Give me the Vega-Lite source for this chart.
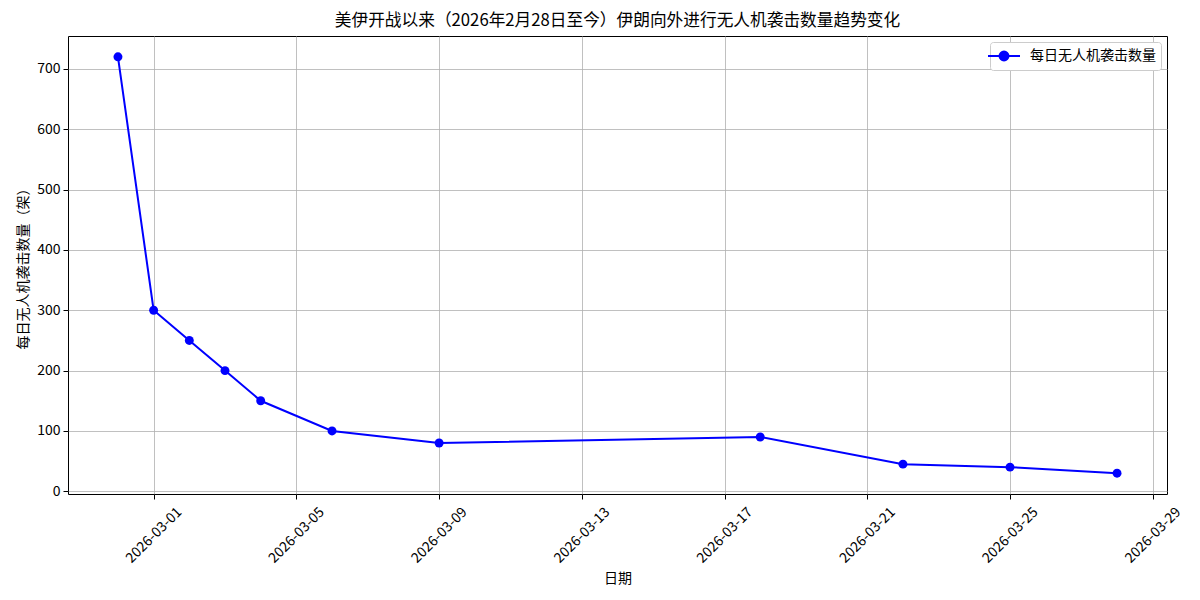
{
  "$schema": "https://vega.github.io/schema/vega-lite/v6.json",
  "width": 1099,
  "height": 458,
  "autosize": "none",
  "padding": {"left": 68, "top": 36, "right": 33, "bottom": 106},
  "background": "white",
  "config": {
    "font": "Noto Sans CJK SC",
    "view": {"stroke": "black", "strokeWidth": 1},
    "axis": {
      "grid": true,
      "gridColor": "#b0b0b0",
      "gridWidth": 0.8,
      "domain": false,
      "tickColor": "black",
      "tickSize": 5,
      "labelColor": "black",
      "labelFontSize": 14,
      "titleFontSize": 14,
      "titleFontWeight": "normal",
      "titleColor": "black"
    }
  },
  "title": {
    "text": "美伊开战以来（2026年2月28日至今）伊朗向外进行无人机袭击数量趋势变化",
    "fontSize": 16.7,
    "fontWeight": "normal",
    "color": "black",
    "offset": 6
  },
  "data": {
    "values": [
      {"date": "2026-02-28T00:00:00", "count": 720, "series": "每日无人机袭击数量"},
      {"date": "2026-03-01T00:00:00", "count": 300, "series": "每日无人机袭击数量"},
      {"date": "2026-03-02T00:00:00", "count": 250, "series": "每日无人机袭击数量"},
      {"date": "2026-03-03T00:00:00", "count": 200, "series": "每日无人机袭击数量"},
      {"date": "2026-03-04T00:00:00", "count": 150, "series": "每日无人机袭击数量"},
      {"date": "2026-03-06T00:00:00", "count": 100, "series": "每日无人机袭击数量"},
      {"date": "2026-03-09T00:00:00", "count": 80, "series": "每日无人机袭击数量"},
      {"date": "2026-03-18T00:00:00", "count": 90, "series": "每日无人机袭击数量"},
      {"date": "2026-03-22T00:00:00", "count": 45, "series": "每日无人机袭击数量"},
      {"date": "2026-03-25T00:00:00", "count": 40, "series": "每日无人机袭击数量"},
      {"date": "2026-03-28T00:00:00", "count": 30, "series": "每日无人机袭击数量"}
    ]
  },
  "encoding": {
    "x": {
      "field": "date",
      "type": "temporal",
      "title": "日期",
      "scale": {
        "domain": [
          {"year": 2026, "month": 2, "date": 26, "hours": 14, "minutes": 24},
          {"year": 2026, "month": 3, "date": 29, "hours": 9, "minutes": 36}
        ],
        "nice": false
      },
      "axis": {
        "values": [
          {"year": 2026, "month": 3, "date": 1},
          {"year": 2026, "month": 3, "date": 5},
          {"year": 2026, "month": 3, "date": 9},
          {"year": 2026, "month": 3, "date": 13},
          {"year": 2026, "month": 3, "date": 17},
          {"year": 2026, "month": 3, "date": 21},
          {"year": 2026, "month": 3, "date": 25},
          {"year": 2026, "month": 3, "date": 29}
        ],
        "format": "%Y-%m-%d",
        "labelAngle": -45,
        "labelAlign": "center",
        "labelBaseline": "middle",
        "labelPadding": 36,
        "titlePadding": 6
      }
    },
    "y": {
      "field": "count",
      "type": "quantitative",
      "title": "每日无人机袭击数量（架）",
      "scale": {"domain": [-4.5, 754.5], "nice": false, "zero": false},
      "axis": {"values": [0, 100, 200, 300, 400, 500, 600, 700], "labelPadding": 3, "titlePadding": 6}
    },
    "color": {
      "field": "series",
      "type": "nominal",
      "scale": {"range": ["#0000ff"]},
      "legend": {
        "title": null,
        "orient": "top-right",
        "offset": 6,
        "padding": 5,
        "strokeColor": "#cccccc",
        "fillColor": "white",
        "cornerRadius": 3,
        "labelFontSize": 14,
        "labelColor": "black",
        "symbolType": "M-2,0H2M0.56,0A0.56,0.56 0 1,1 -0.56,0A0.56,0.56 0 1,1 0.56,0Z",
        "symbolSize": 256,
        "symbolStrokeWidth": 2,
        "symbolFillColor": "#0000ff",
        "symbolStrokeColor": "#0000ff",
        "labelOffset": 17
      }
    }
  },
  "layer": [
    {"mark": {"type": "line", "strokeWidth": 2}},
    {"mark": {"type": "point", "filled": true, "size": 80, "opacity": 1}}
  ]
}
